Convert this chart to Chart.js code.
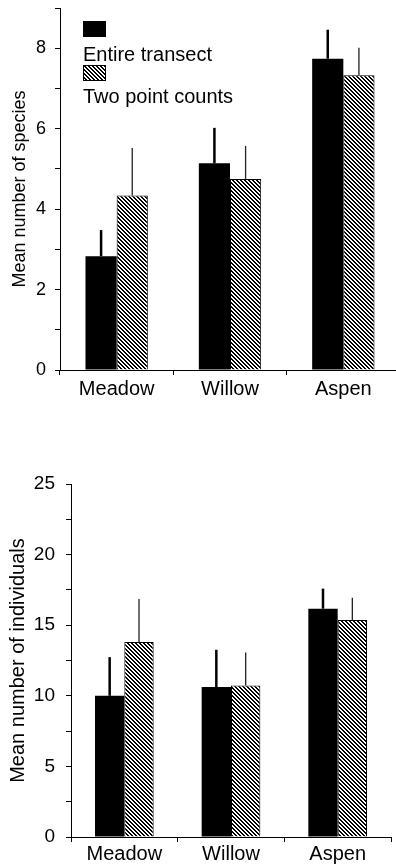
<!DOCTYPE html>
<html>
<head>
<meta charset="utf-8">
<script src="https://cdn.jsdelivr.net/npm/chart.js@4/dist/chart.umd.min.js"></script>
<style>
  html, body { margin: 0; padding: 0; background: #fff; overflow: hidden; width: 396px; height: 864px; }
  .box { position: absolute; }
  .legtxt { position: absolute; left: 83px; font: 20px "Liberation Sans", Arial, sans-serif; line-height: 20px; color: #000; white-space: nowrap; }
  .sw { position: absolute; left: 83px; width: 23px; height: 16px; box-sizing: border-box; }
</style>
</head>
<body>
<div class="box" style="left:0;top:0;width:400px;height:410px;"><canvas id="c1" width="400" height="410"></canvas></div>
<div class="box" style="left:0;top:440px;width:396px;height:424px;"><canvas id="c2" width="396" height="424"></canvas></div>
<div id="legend">
  <div class="sw" id="sw1" style="top:21px;background:#000;"></div>
  <div class="legtxt" id="lt1" style="top:44px;"></div>
  <div class="sw" id="sw2" style="top:65px;border:1px solid #000;"></div>
  <div class="legtxt" id="lt2" style="top:86px;"></div>
</div>
<script>
// ---- data ----
const categories = ['Meadow', 'Willow', 'Aspen'];
const seriesNames = ['Entire transect', 'Two point counts'];

const speciesTransect   = [2.83, 5.14, 7.74];
const speciesTransectSE = [0.65, 0.88, 0.72];
const speciesPoint      = [4.34, 4.75, 7.33];
const speciesPointSE    = [1.18, 0.82, 0.68];

const indivTransect   = [10.0, 10.62, 16.17];
const indivTransectSE = [2.74, 2.64, 1.42];
const indivPoint      = [13.81, 10.73, 15.37];
const indivPointSE    = [3.05, 2.34, 1.58];

const speciesTickLabels = [0, 2, 4, 6, 8];
const indivTickLabels   = [0, 5, 10, 15, 20, 25];

const speciesTitle = 'Mean number of species';
const indivTitle = 'Mean number of individuals';

// ---- hatch pattern ----
const pc = document.createElement('canvas');
pc.width = 4; pc.height = 4;
const pctx = pc.getContext('2d');
pctx.fillStyle = '#fff'; pctx.fillRect(0, 0, 4, 4);
pctx.fillStyle = '#000';
for (let x = 0; x < 4; x++) for (let y = 0; y < 4; y++) {
  const d = ((x - y) % 4 + 4) % 4;
  if (d === 0 || d === 1) pctx.fillRect(x, y, 1, 1);
}
function hatch(ctx) { return ctx.createPattern(pc, 'repeat'); }

// legend
document.getElementById('lt1').textContent = seriesNames[0];
document.getElementById('lt2').textContent = seriesNames[1];
document.getElementById('sw2').style.backgroundImage = 'url(' + pc.toDataURL() + ')';

const FONT = '"Liberation Sans", Arial, sans-serif';

const errorBars = {
  id: 'errorBars',
  afterDatasetsDraw(chart) {
    const ctx = chart.ctx;
    const ys = chart.scales.y;
    chart.data.datasets.forEach((ds, i) => {
      const meta = chart.getDatasetMeta(i);
      meta.data.forEach((bar, j) => {
        const top = ys.getPixelForValue(ds.data[j] + ds.errors[j]);
        ctx.save();
        ctx.strokeStyle = ds.errorColor;
        ctx.lineWidth = ds.errorWidth;
        ctx.beginPath();
        ctx.moveTo(bar.x, bar.y);
        ctx.lineTo(bar.x, top);
        ctx.stroke();
        ctx.restore();
      });
    });
  }
};

function makeChart(canvasId, o) {
  const ctx = document.getElementById(canvasId).getContext('2d');
  return new Chart(ctx, {
    type: 'bar',
    data: {
      labels: categories,
      datasets: [
        { label: seriesNames[0], data: o.a, errors: o.aSE, backgroundColor: '#000', borderColor: '#000', borderWidth: 0,
          errorColor: '#000', errorWidth: 2.5, categoryPercentage: 0.55, barPercentage: 1 },
        { label: seriesNames[1], data: o.b, errors: o.bSE, backgroundColor: hatch(ctx), borderColor: '#000', borderWidth: 1,
          errorColor: '#222', errorWidth: 1.3, categoryPercentage: 0.55, barPercentage: 1 }
      ]
    },
    options: {
      responsive: false,
      animation: false,
      events: [],
      layout: { padding: o.padding },
      plugins: { legend: { display: false }, tooltip: { enabled: false } },
      scales: {
        x: {
          grid: { display: true, drawOnChartArea: false, offset: true, color: '#000', tickLength: 5, lineWidth: 1 },
          border: { display: true, color: '#000', width: 1 },
          ticks: { color: '#000', font: { family: FONT, size: o.xFont }, padding: o.xPad, maxRotation: 0, autoSkip: false },
          afterFit(s) { s.height = o.xHeight; s.paddingLeft = 0; s.paddingRight = 0; }
        },
        y: {
          min: 0, max: o.max,
          grid: { display: true, drawOnChartArea: false, color: '#000', tickLength: 5, lineWidth: 1 },
          border: { display: true, color: '#000', width: 1 },
          ticks: {
            stepSize: o.step, color: '#000', font: { family: FONT, size: o.yFont }, padding: o.yPad,
            callback: (v) => o.labels.includes(v) ? String(v) : ''
          },
          title: { display: true, text: o.title, color: '#000', font: { family: FONT, size: o.titleFont }, padding: { top: o.titlePad, bottom: 0 } },
          afterFit(s) { s.width = o.yWidth; s.paddingTop = 0; s.paddingBottom = 0; }
        }
      }
    },
    plugins: [errorBars]
  });
}

makeChart('c1', {
  a: speciesTransect, aSE: speciesTransectSE, b: speciesPoint, bSE: speciesPointSE,
  max: 9, step: 1, labels: speciesTickLabels, title: speciesTitle,
  padding: { top: 8, left: 0, right: 0, bottom: 0 },
  xHeight: 40, yWidth: 60, xFont: 20, yFont: 18, titleFont: 18, xPad: 2, yPad: 9, titlePad: 9
});

makeChart('c2', {
  a: indivTransect, aSE: indivTransectSE, b: indivPoint, bSE: indivPointSE,
  max: 25, step: 2.5, labels: indivTickLabels, title: indivTitle,
  padding: { top: 44, left: 0, right: 5, bottom: 0 },
  xHeight: 27, yWidth: 71, xFont: 20, yFont: 19, titleFont: 20, xPad: 0, yPad: 11, titlePad: 6
});
</script>
</body>
</html>
